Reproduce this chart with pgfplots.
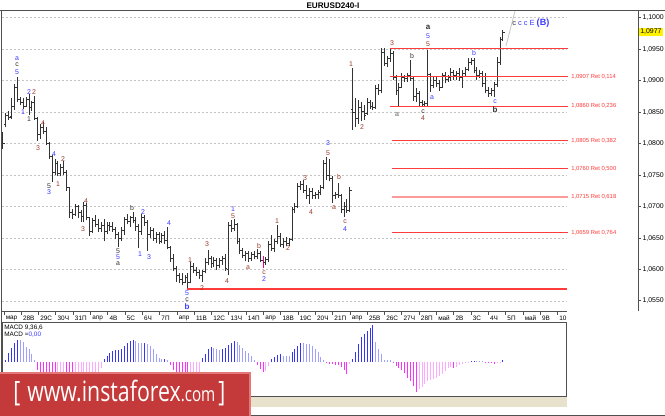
\documentclass[border=0pt]{standalone}
\usepackage{fontspec}
\setmainfont{Liberation Sans}
\newfontfamily\bannerfont{Open Sans}
\usepackage{pgfplots}
\usepackage{pgfplotstable}
\pgfplotsset{compat=1.18}

\definecolor{wbrown}{HTML}{9B3B2B}
\definecolor{wblue}{HTML}{3B3BFF}
\definecolor{wdark}{HTML}{333333}
\definecolor{fibred}{HTML}{FF3B3B}
\definecolor{fibpink}{HTML}{FF9A9A}
\definecolor{barc}{HTML}{333333}
\definecolor{gridc}{HTML}{C4C4C4}
\definecolor{axisc}{HTML}{505050}
\definecolor{mblue}{HTML}{3535F5}
\definecolor{mlblue}{HTML}{A0A0FF}
\definecolor{mmag}{HTML}{FF30FF}
\definecolor{mlmag}{HTML}{FFA8FF}
\definecolor{banner}{HTML}{C43A3A}
\definecolor{bannerrim}{HTML}{E27878}
\definecolor{beige}{HTML}{E8E2CC}

% open / close ticks of the OHLC bars
\pgfdeclareplotmark{otick}{\pgfpathmoveto{\pgfqpoint{-1.3pt}{0pt}}\pgfpathlineto{\pgfqpoint{0pt}{0pt}}\pgfusepathqstroke}
\pgfdeclareplotmark{ctick}{\pgfpathmoveto{\pgfqpoint{0pt}{0pt}}\pgfpathlineto{\pgfqpoint{1.3pt}{0pt}}\pgfusepathqstroke}

% i = bar number, o h l c = price, m = MACD (px above zero), k = histogram shade
\pgfplotstableread{
i o h l c m k
0 1.0805 1.0818 1.0792 1.0800 -1 2
1 1.0830 1.0849 1.0826 1.0845 2 0
2 1.0845 1.0852 1.0838 1.0841 9 0
3 1.0843 1.0872 1.0840 1.0860 14 0
4 1.0860 1.0895 1.0854 1.0890 19 0
5 1.0890 1.0906 1.0866 1.0870 22 0
6 1.0870 1.0874 1.0861 1.0866 22 1
7 1.0866 1.0872 1.0856 1.0860 20 1
8 1.0860 1.0874 1.0858 1.0870 15 1
9 1.0870 1.0879 1.0846 1.0858 13 1
10 1.0858 1.0868 1.0852 1.0865 8 1
11 1.0865 1.0876 1.0838 1.0840 2 1
12 1.0840 1.0842 1.0805 1.0815 -8 2
13 1.0815 1.0832 1.0808 1.0826 -12 2
14 1.0826 1.0834 1.0815 1.0820 -14 2
15 1.0820 1.0826 1.0798 1.0800 -16 2
16 1.0800 1.0803 1.0776 1.0780 -18 2
17 1.0780 1.0782 1.0739 1.0755 -21 2
18 1.0755 1.0775 1.0750 1.0768 -22 2
19 1.0768 1.0772 1.0748 1.0752 -22 3
20 1.0752 1.0768 1.0748 1.0762 -21 3
21 1.0762 1.0772 1.0750 1.0755 -21 3
22 1.0755 1.0758 1.0725 1.0730 -22 2
23 1.0730 1.0732 1.0682 1.0690 -24 2
24 1.0690 1.0697 1.0681 1.0688 -25 2
25 1.0688 1.0705 1.0685 1.0700 -25 3
26 1.0700 1.0702 1.0682 1.0690 -24 3
27 1.0690 1.0694 1.0676 1.0684 -23 3
28 1.0684 1.0708 1.0675 1.0702 -21 3
29 1.0702 1.0706 1.0678 1.0682 -19 3
30 1.0682 1.0684 1.0653 1.0660 -18 3
31 1.0660 1.0682 1.0658 1.0678 -16 3
32 1.0678 1.0686 1.0668 1.0672 -14 3
33 1.0672 1.0680 1.0660 1.0665 -11 3
34 1.0665 1.0676 1.0660 1.0670 -6 3
35 1.0670 1.0680 1.0645 1.0660 3 0
36 1.0660 1.0675 1.0656 1.0670 6 0
37 1.0670 1.0676 1.0662 1.0668 9 0
38 1.0668 1.0675 1.0660 1.0664 10.5 0
39 1.0664 1.0668 1.0648 1.0655 11.5 0
40 1.0655 1.0660 1.0636 1.0650 12 0
41 1.0650 1.0668 1.0645 1.0662 13 0
42 1.0662 1.0684 1.0655 1.0680 16 0
43 1.0680 1.0688 1.0672 1.0676 19 0
44 1.0676 1.0685 1.0668 1.0682 21 0
45 1.0682 1.0692 1.0674 1.0678 22 0
46 1.0678 1.0684 1.0662 1.0668 21 1
47 1.0668 1.0672 1.0635 1.0660 19 1
48 1.0660 1.0688 1.0655 1.0682 18.5 1
49 1.0682 1.0686 1.0670 1.0675 19 0
50 1.0675 1.0678 1.0630 1.0655 18 1
51 1.0655 1.0668 1.0650 1.0662 16 1
52 1.0662 1.0666 1.0645 1.0650 13 1
53 1.0650 1.0660 1.0642 1.0655 8 1
54 1.0655 1.0660 1.0640 1.0644 3.5 1
55 1.0644 1.0658 1.0642 1.0654 2.5 1
56 1.0654 1.0662 1.0640 1.0646 3 0
57 1.0646 1.0668 1.0632 1.0635 2 1
58 1.0635 1.0637 1.0612 1.0618 -3 2
59 1.0618 1.0624 1.0598 1.0602 -8 2
60 1.0602 1.0605 1.0580 1.0590 -13 2
61 1.0590 1.0594 1.0578 1.0584 -18 2
62 1.0584 1.0595 1.0575 1.0580 -22 2
63 1.0580 1.0592 1.0578 1.0588 -24 2
64 1.0588 1.0594 1.0569 1.0580 -25 2
65 1.0580 1.0612 1.0578 1.0605 -24 3
66 1.0605 1.0610 1.0594 1.0598 -20 3
67 1.0598 1.0604 1.0590 1.0595 -15 3
68 1.0595 1.0600 1.0585 1.0590 -10 3
69 1.0590 1.0600 1.0580 1.0597 4 0
70 1.0597 1.0618 1.0594 1.0612 8 0
71 1.0612 1.0631 1.0608 1.0618 12.5 0
72 1.0618 1.0622 1.0603 1.0610 14.5 0
73 1.0610 1.0620 1.0604 1.0615 14 1
74 1.0615 1.0619 1.0600 1.0606 13 1
75 1.0606 1.0618 1.0602 1.0614 12 1
76 1.0614 1.0622 1.0608 1.0618 12.5 0
77 1.0618 1.0624 1.0598 1.0602 14 0
78 1.0600 1.0676 1.0592 1.0670 17 0
79 1.0670 1.0678 1.0660 1.0666 19 0
80 1.0666 1.0680 1.0662 1.0672 21 0
81 1.0672 1.0674 1.0640 1.0645 19.5 1
82 1.0645 1.0650 1.0625 1.0630 17 1
83 1.0630 1.0634 1.0618 1.0622 14 1
84 1.0622 1.0630 1.0614 1.0626 10.5 1
85 1.0626 1.0630 1.0612 1.0618 8.5 1
86 1.0618 1.0628 1.0614 1.0624 5.5 1
87 1.0624 1.0630 1.0616 1.0620 2 1
88 1.0620 1.0632 1.0616 1.0626 -3 2
89 1.0626 1.0630 1.0612 1.0615 -7 2
90 1.0615 1.0622 1.0603 1.0612 -10 2
91 1.0612 1.0620 1.0608 1.0616 -9 3
92 1.0616 1.0645 1.0612 1.0640 -4 3
93 1.0640 1.0655 1.0630 1.0634 2.5 0
94 1.0634 1.0648 1.0628 1.0644 5 0
95 1.0644 1.0671 1.0640 1.0652 7 0
96 1.0652 1.0658 1.0636 1.0640 7.5 0
97 1.0640 1.0650 1.0634 1.0645 6 1
98 1.0645 1.0652 1.0638 1.0642 5.5 1
99 1.0642 1.0650 1.0638 1.0648 5.5 1
100 1.0648 1.0700 1.0645 1.0695 10 0
101 1.0695 1.0706 1.0690 1.0700 13 0
102 1.0700 1.0738 1.0698 1.0732 16 0
103 1.0732 1.0740 1.0726 1.0735 19 0
104 1.0735 1.0742 1.0722 1.0726 18.5 1
105 1.0726 1.0734 1.0712 1.0718 18 1
106 1.0718 1.0730 1.0704 1.0724 17.5 1
107 1.0724 1.0730 1.0712 1.0718 16 1
108 1.0718 1.0724 1.0712 1.0720 13 1
109 1.0720 1.0726 1.0712 1.0722 10 1
110 1.0722 1.0734 1.0718 1.0730 5 1
111 1.0730 1.0774 1.0728 1.0768 1.5 1
112 1.0768 1.0779 1.0742 1.0750 -1 2
113 1.0750 1.0776 1.0740 1.0745 -2 2
114 1.0745 1.0748 1.0706 1.0718 -2.5 2
115 1.0718 1.0724 1.0712 1.0720 -3 2
116 1.0720 1.0738 1.0714 1.0718 -3.5 2
117 1.0718 1.0720 1.0690 1.0696 -5 2
118 1.0696 1.0708 1.0684 1.0700 -8 2
119 1.0700 1.0712 1.0690 1.0694 -12 2
120 1.0694 1.0731 1.0692 1.0725 -2 3
121 1.0855 1.0921 1.0822 1.0850 3 0
122 1.0850 1.0872 1.0826 1.0840 10 0
123 1.0840 1.0870 1.0832 1.0858 18 0
124 1.0858 1.0866 1.0836 1.0852 25 0
125 1.0852 1.0862 1.0838 1.0845 28 0
126 1.0848 1.0872 1.0846 1.0866 31 0
127 1.0866 1.0870 1.0856 1.0860 34 0
128 1.0860 1.0866 1.0853 1.0858 37 0
129 1.0858 1.0893 1.0855 1.0888 20 1
130 1.0888 1.0895 1.0878 1.0884 13 1
131 1.0884 1.0952 1.0880 1.0945 8 1
132 1.0945 1.0952 1.0924 1.0928 2 1
133 1.0928 1.0940 1.0922 1.0935 2 1
134 1.0935 1.0950 1.0930 1.0944 2 1
135 1.0944 1.0948 1.0902 1.0906 -1.5 2
136 1.0906 1.0910 1.0878 1.0884 -4 2
137 1.0884 1.0896 1.0858 1.0890 -6 2
138 1.0890 1.0912 1.0888 1.0906 -8 2
139 1.0906 1.0910 1.0898 1.0904 -11 2
140 1.0904 1.0912 1.0898 1.0908 -16 2
141 1.0908 1.0933 1.0900 1.0904 -19 2
142 1.0904 1.0906 1.0868 1.0875 -24 2
143 1.0875 1.0888 1.0866 1.0880 -30 2
144 1.0880 1.0884 1.0860 1.0866 -27 3
145 1.0866 1.0870 1.0858 1.0862 -25 3
146 1.0862 1.0868 1.0858 1.0864 -22 3
147 1.0864 1.0949 1.0860 1.0910 -19.5 3
148 1.0910 1.0912 1.0882 1.0892 -18 3
149 1.0892 1.0906 1.0888 1.0900 -17 3
150 1.0900 1.0906 1.0890 1.0896 -16 3
151 1.0896 1.0902 1.0884 1.0890 -14.5 3
152 1.0890 1.0912 1.0888 1.0908 -12 3
153 1.0908 1.0914 1.0896 1.0902 -9 3
154 1.0902 1.0910 1.0898 1.0906 -6.5 3
155 1.0906 1.0920 1.0900 1.0914 -5 3
156 1.0914 1.0918 1.0902 1.0908 -6.5 2
157 1.0908 1.0916 1.0902 1.0912 -5 3
158 1.0912 1.0920 1.0900 1.0905 -3.5 3
159 1.0905 1.0918 1.0888 1.0912 -2 3
160 1.0912 1.0922 1.0908 1.0918 -1.2 3
161 1.0918 1.0936 1.0915 1.0930 -1 3
162 1.0930 1.0936 1.0926 1.0932 0.8 0
163 1.0932 1.0936 1.0912 1.0916 1.2 0
164 1.0916 1.0922 1.0902 1.0908 1.2 1
165 1.0908 1.0918 1.0904 1.0912 1 1
166 1.0912 1.0916 1.0890 1.0896 0.8 1
167 1.0896 1.0912 1.0880 1.0885 -1 2
168 1.0885 1.0890 1.0874 1.0880 -1.5 2
169 1.0880 1.0888 1.0876 1.0884 -1.5 2
170 1.0884 1.0898 1.0874 1.0894 -2 2
171 1.0894 1.0938 1.0890 1.0930 -1.5 3
172 1.0930 1.0970 1.0926 1.0966 -0.8 3
173 1.0966 1.0981 1.0964 1.0977 1.5 0
}\ohlc

% Fibonacci levels: start x (px), end x (px), price
\pgfplotstableread{
x0 x1 p
390 568 1.0951
390 568 1.0907
390 568 1.0860
392 568 1.0805
392 568 1.0760
392 568 1.0659
}\fiblevels

\newcommand\wf{\fontsize{5.2}{6}\selectfont}
\newcommand\wl[4]{\node[text=#3,font=\wf,inner sep=0pt] at (#1,#2) {#4};}
\newcommand\wb[4]{\node[text=#3,font=\bfseries\fontsize{6}{7}\selectfont,inner sep=0pt] at (#1,#2) {#4};}
\newcommand\retlabel[2]{\node[anchor=west,text=fibred,font=\fontsize{4.4}{5}\selectfont,inner sep=0pt] at (axis cs:571,#1) {#2};}

\begin{document}
\begin{tikzpicture}
\begin{scope}[x=0.75pt,y=-0.75pt]
\fill[white] (0,0) rectangle (665,416);
% dashed price grid, laid down before everything else
\foreach \p in {1.055,1.06,1.065,1.07,1.075,1.08,1.085,1.09,1.095,1.1}{
    \draw[gridc, line width=0.75pt, dash pattern=on 1.5pt off 1.5pt] (2,{11+(1.10111-\p)*6289.3}) -- (567,{11+(1.10111-\p)*6289.3});
}
\end{scope}

% price panel, x in pixels, y in price
\begin{axis}[
    at={(1.5pt,-233.25pt)}, anchor=south west,
    scale only axis, width=477pt, height=225pt,
    xmin=2, xmax=638, ymin=1.05341, ymax=1.10111,
    axis x line=none, axis y line*=right,
    axis line style={draw=axisc, line width=0.75pt},
    xtick=\empty,
    ytick={1.055,1.06,1.065,1.07,1.075,1.08,1.085,1.09,1.095,1.1},
    tick align=outside, major tick length=2.25pt,
    ytick style={draw=axisc, line width=0.75pt},
    yticklabel style={font=\fontsize{5.2}{6}\selectfont, inner sep=1pt,
        /pgf/number format/fixed, /pgf/number format/fixed zerofill,
        /pgf/number format/precision=4, /pgf/number format/use comma,
        /pgf/number format/assume math mode=true},
    clip=false,
]
% OHLC bars
\addplot[draw=none, mark=none,
    error bars/.cd, y dir=plus, y explicit, error mark=none,
    error bar style={draw=barc, line width=0.75pt, solid}]
    table[x expr=3+2.89*\thisrow{i}, y=l, y error plus expr=\thisrow{h}-\thisrow{l}] {\ohlc};
\addplot[barc, only marks, mark=otick, mark options={line width=0.75pt}]
    table[x expr=3+2.89*\thisrow{i}, y=o] {\ohlc};
\addplot[barc, only marks, mark=ctick, mark options={line width=0.75pt}]
    table[x expr=3+2.89*\thisrow{i}, y=c] {\ohlc};
\addplot[draw=none, mark=none, restrict expr to domain={\thisrow{i}}{90:90},
    error bars/.cd, y dir=plus, y explicit, error mark=none,
    error bar style={draw=magenta, line width=0.75pt, solid}]
    table[x expr=3+2.89*\thisrow{i}, y=l, y error plus expr=\thisrow{h}-\thisrow{l}] {\ohlc};

% Fibonacci levels as horizontal segments (x error bars from x0 to x1)
\addplot[draw=none, mark=none, forget plot,
    error bars/.cd, x dir=plus, x explicit, error mark=none,
    error bar style={draw=fibred, line width=0.75pt, solid}]
    table[x=x0, y=p, x error plus expr=\thisrow{x1}-\thisrow{x0}] {\fiblevels};
\addplot[color=fibpink, solid, line width=1.5pt, mark=none, forget plot] coordinates {(392,1.0715) (568,1.0715)};
\addplot[color=fibred, solid, line width=0.9pt, mark=none, forget plot] coordinates {(187,1.0569) (567,1.0569)};

\retlabel{1.0907}{1,0907 Ret 0,114}
\retlabel{1.0860}{1,0860 Ret 0,236}
\retlabel{1.0805}{1,0805 Ret 0,382}
\retlabel{1.0760}{1,0760 Ret 0,500}
\retlabel{1.0715}{1,0715 Ret 0,618}
\retlabel{1.0659}{1,0659 Ret 0,764}
\end{axis}

% MACD panel
\begin{axis}[
    at={(1.5pt,-297.75pt)}, anchor=south west,
    scale only axis, width=423pt, height=55.5pt,
    xmin=2, xmax=566, ymin=-35, ymax=39,
    hide axis,
]
\addplot[ycomb, mblue, line width=0.75pt, restrict expr to domain={\thisrow{k}}{0:0}]
    table[x expr=3+2.89*\thisrow{i}, y=m] {\ohlc};
\addplot[ycomb, mlblue, line width=0.75pt, restrict expr to domain={\thisrow{k}}{1:1}]
    table[x expr=3+2.89*\thisrow{i}, y=m] {\ohlc};
\addplot[ycomb, mmag, line width=0.75pt, restrict expr to domain={\thisrow{k}}{2:2}]
    table[x expr=3+2.89*\thisrow{i}, y=m] {\ohlc};
\addplot[ycomb, mlmag, line width=0.75pt, restrict expr to domain={\thisrow{k}}{3:3}]
    table[x expr=3+2.89*\thisrow{i}, y=m] {\ohlc};
\end{axis}

\begin{scope}[x=0.75pt,y=-0.75pt]
% frame
\draw[axisc, line width=0.75pt] (0,11) -- (665,11);
\draw[axisc, line width=0.75pt] (1.5,11) -- (1.5,397);
\draw[axisc, line width=0.75pt] (1.5,312) -- (567,312);
\draw[axisc, line width=0.75pt] (2,323) rectangle (566,397);
\fill[beige] (250,397.5) rectangle (567,407);
\draw[axisc, line width=0.75pt] (0,415.5) -- (665,415.5);
\node[font=\bfseries\fontsize{6.1}{7}\selectfont, inner sep=0pt] at (333,6) {EURUSD240-I};

% date scale
\foreach \lab [count=\n from 0] in {мар,28В,29С,30Ч,31П,апр,4В,5С,6Ч,7П,апр,11В,12С,13Ч,14П,апр,18В,19С,20Ч,21П,апр,25В,26С,27Ч,28П,май,2В,3С,4Ч,5П,май,9В,10}{
    \draw[axisc, line width=0.75pt] ({4+17.3*\n},312) -- ++(0,3);
    \node[anchor=west, inner sep=0pt, font=\fontsize{4.8}{5}\selectfont] at ({5.5+17.3*\n},318) {\lab};
}

% current price
\node[anchor=west, fill=yellow, inner sep=0.8pt, font=\fontsize{5.2}{6}\selectfont] at (639,32) {1,0977};

% trend stub
\draw[gray!45, line width=0.6pt] (506,46) -- (515,11);
\node[anchor=west, inner sep=0pt] at (512,23) {\fontsize{5.6}{6}\selectfont\textcolor{wdark}{c} \textcolor{wblue}{c c E} \textcolor{wblue}{\bfseries\fontsize{6.8}{7}\selectfont(B)}};

% wave labels: blue
\wl{17}{59}{wblue}{a}
\wl{17}{72}{wblue}{5}
\wl{23}{112}{wblue}{1}
\wl{29}{92}{wblue}{2}
\wl{54}{154}{wblue}{4}
\wl{49}{192}{wblue}{3}
\wl{118}{257}{wblue}{5}
\wl{140}{254}{wblue}{1}
\wl{143}{212}{wblue}{2}
\wl{149}{257}{wblue}{3}
\wl{169}{223}{wblue}{4}
\wl{187}{293}{wblue}{5}
\wb{187}{307}{wblue}{b}
\wl{233}{209}{wblue}{1}
\wl{264}{279}{wblue}{2}
\wl{328}{143}{wblue}{3}
\wl{345}{229}{wblue}{4}
\wl{428}{36}{wblue}{5}
\wl{432}{98}{wblue}{a}
\wl{474}{53}{wblue}{b}
\wl{495}{102}{wblue}{c}
% black
\wl{17}{65}{wdark}{c}
\wl{118}{264}{wdark}{a}
\wl{132}{208}{wdark}{b}
\wl{187}{300}{wdark}{c}
\wl{397}{115}{wdark!80}{a}
\wl{412}{56}{wdark}{b}
\wl{423}{112}{wdark}{c}
\wb{428}{27}{wdark}{a}
\wb{495}{110}{wdark}{b}
\wl{29}{119}{wdark}{1}
\wl{49}{186}{wdark}{5}
\wl{118}{251}{wdark}{5}
% brown
\wl{34}{92}{wbrown}{2}
\wl{43}{123}{wbrown}{4}
\wl{38}{148}{wbrown}{3}
\wl{58}{184}{wbrown}{1}
\wl{63}{159}{wbrown}{2}
\wl{86}{201}{wbrown}{4}
\wl{83}{229}{wbrown}{3}
\wl{190}{260}{wbrown}{1}
\wl{202}{288}{wbrown}{2}
\wl{207}{244}{wbrown}{3}
\wl{227}{281}{wbrown}{4}
\wl{233}{216}{wbrown}{5}
\wl{248}{268}{wbrown}{a}
\wl{259}{246}{wbrown}{b}
\wl{264}{273}{wbrown}{c}
\wl{277}{221}{wbrown}{1}
\wl{288}{248}{wbrown}{2}
\wl{305}{178}{wbrown}{3}
\wl{311}{212}{wbrown}{4}
\wl{328}{153}{wbrown}{5}
\wl{339}{177}{wbrown}{b}
\wl{334}{208}{wbrown}{a}
\wl{345}{222}{wbrown}{c}
\wl{351}{64}{wbrown}{1}
\wl{362}{127}{wbrown}{2}
\wl{392}{43}{wbrown}{3}
\wl{423}{118}{wbrown}{4}
\wl{428}{44}{wbrown}{5}

% MACD caption
\node[anchor=west, inner sep=0pt, font=\fontsize{4.8}{5}\selectfont] at (4,327.5) {MACD 9,36,6};
\node[anchor=west, inner sep=0pt, font=\fontsize{4.8}{5}\selectfont] at (4,335) {MACD =\textcolor{wblue}{0,00}};

% banner
\fill[banner] (0,372) rectangle (251,417);
\draw[bannerrim, line width=1.2pt] (0.5,372.8) -- (250.2,372.8) -- (250.2,417);
\node[anchor=base west, inner sep=0pt, text=white] at (13,402)
    {\scalebox{0.76}[1]{\bannerfont\fontsize{21}{21}\selectfont [\hspace{7pt}www.instaforex{\fontsize{15}{15}\selectfont.com}\hspace{3pt}]}};

\pgfresetboundingbox
\path[use as bounding box] (0,0) rectangle (665,416);
\end{scope}
\end{tikzpicture}
\end{document}
